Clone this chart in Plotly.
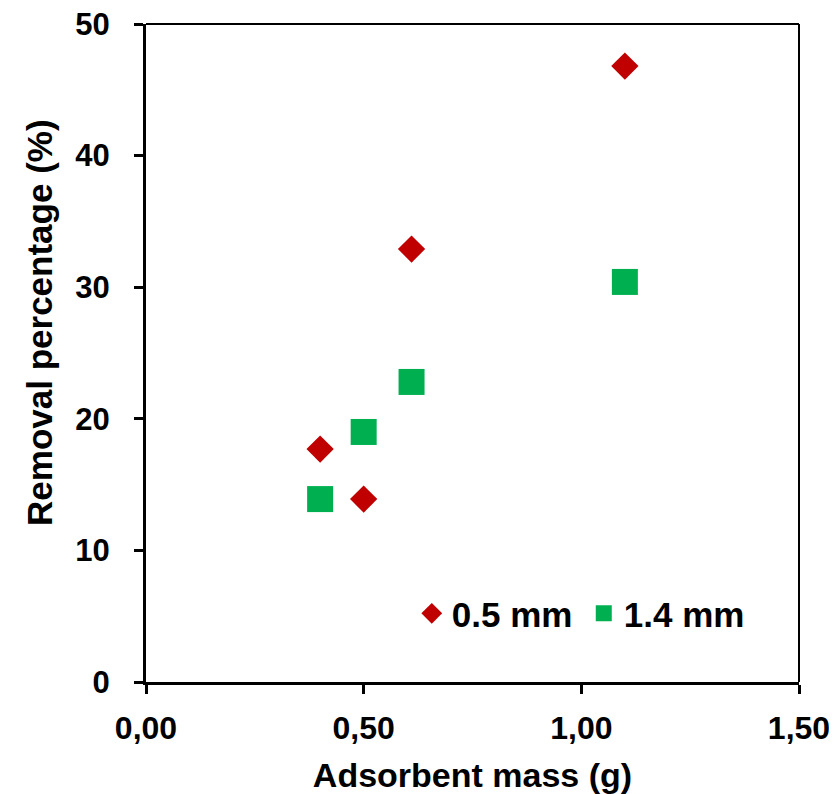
import plotly.graph_objects as go

mass_05 = [0.40, 0.50, 0.61, 1.10]
removal_05 = [17.7, 13.9, 32.9, 46.8]
mass_14 = [0.40, 0.50, 0.61, 1.10]
removal_14 = [13.9, 19.0, 22.8, 30.4]

FONT = "Liberation Sans, Arial, sans-serif"

fig = go.Figure()
fig.add_trace(go.Scatter(x=mass_05, y=removal_05, mode="markers", name="0.5 mm",
                         marker=dict(symbol="diamond", size=21, color="#C00000")))
fig.add_trace(go.Scatter(x=mass_14, y=removal_14, mode="markers", name="1.4 mm",
                         marker=dict(symbol="square", size=26, color="#00B050")))

fig.update_layout(
    width=830, height=787,
    margin=dict(l=138, r=39, t=16, b=113, autoexpand=False),
    paper_bgcolor="white", plot_bgcolor="white",
    separators=",.",
    font=dict(family=FONT, size=24, color="black"),
    legend=dict(x=0.407, y=0.104, xanchor="left", yanchor="middle", orientation="h",
                font=dict(family=FONT, size=35, color="black", weight="bold"),
                bgcolor="rgba(0,0,0,0)", itemwidth=30, tracegroupgap=0,
                entrywidth=127, entrywidthmode="pixels"),
    shapes=[dict(type="line", xref="paper", yref="paper", x0=0, x1=1, y0=1, y1=1,
                 line=dict(color="black", width=2)),
            dict(type="line", xref="paper", yref="paper", x0=1, x1=1, y0=0, y1=1,
                 line=dict(color="black", width=2))],
    annotations=[dict(text="Removal percentage (%)", xref="paper", yref="paper",
                      x=-0.162, y=0.546, textangle=-90, showarrow=False,
                      xanchor="center", yanchor="middle",
                      font=dict(family=FONT, size=35, weight="bold", color="black"))],
)
fig.update_xaxes(range=[0, 1.5], tickvals=[0, 0.5, 1.0, 1.5], tickformat=".2f",
                 showgrid=False, zeroline=False, showline=True, linecolor="black", linewidth=3,
                 ticks="outside", ticklen=9, tickwidth=3, tickcolor="black",
                 ticklabelstandoff=7, ticklabeloverflow="allow",
                 tickfont=dict(family=FONT, size=32, weight="bold"),
                 title=dict(text="Adsorbent mass (g)", font=dict(family=FONT, size=34, weight="bold"), standoff=18))
fig.update_yaxes(range=[0, 50], dtick=10,
                 showgrid=False, zeroline=False, showline=True, linecolor="black", linewidth=3,
                 ticks="outside", ticklen=9, tickwidth=3, tickcolor="black",
                 ticklabelstandoff=18, ticklabeloverflow="allow",
                 tickfont=dict(family=FONT, size=31, weight="bold"))

fig.write_html("out.html")
